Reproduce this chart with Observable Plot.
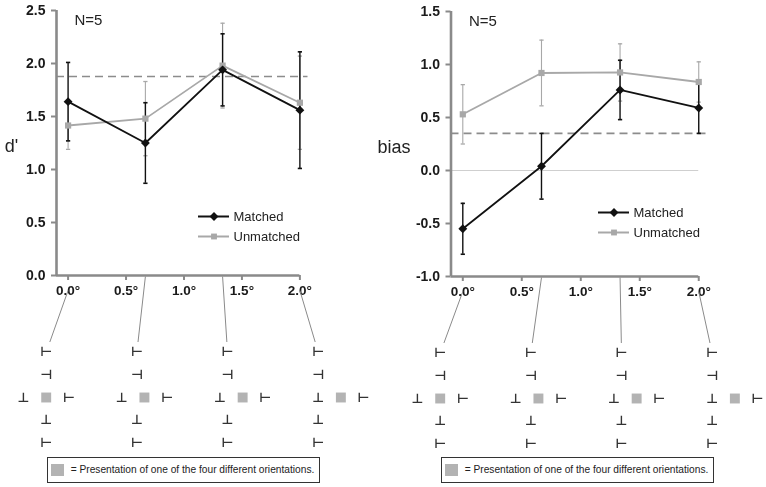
<!DOCTYPE html>
<html><head><meta charset="utf-8">
<script src="https://cdn.jsdelivr.net/npm/d3@7"></script>
<script src="https://cdn.jsdelivr.net/npm/@observablehq/plot@0.6"></script>
<style>
body{margin:0;background:#fff;}
#root{position:relative;width:766px;height:487px;overflow:hidden;font-family:"Liberation Sans",Arial,sans-serif;background:#fff;}
.panel{position:absolute;top:0;width:383px;height:487px;}
.layer{position:absolute;will-change:transform;}
.layer svg{background:transparent !important;overflow:visible;}
.caption{position:absolute;box-sizing:border-box;border:1px solid #333;height:26px;display:flex;align-items:center;font-size:10.2px;color:#222;background:#fff;white-space:nowrap;}
.caption .sw{display:inline-block;width:13px;height:12px;background:#b3b3b3;margin:0 7px 0 3px;}
</style></head>
<body><div id="root"></div>
<script>
// ---------------- data ----------------
const positions = [0, 0.667, 1.333, 2.0];            // target offset (deg)
const series = ["Matched", "Unmatched"];
const dprimeMatched = [1.64, 1.25, 1.94, 1.56];
const dprimeMatchedErr = [0.37, 0.38, 0.34, 0.55];
const dprimeUnmatched = [1.415, 1.48, 1.98, 1.63];
const dprimeUnmatchedErr = [0.225, 0.35, 0.40, 0.44];
const dprimeReference = 1.877;
const biasMatched = [-0.55, 0.04, 0.76, 0.59];
const biasMatchedErr = [0.24, 0.31, 0.28, 0.24];
const biasUnmatched = [0.53, 0.92, 0.925, 0.835];
const biasUnmatchedErr = [0.28, 0.31, 0.27, 0.19];
const biasReference = 0.35;
const xTicks = [0, 0.5, 1.0, 1.5, 2.0];
const dprimeTicks = [0, 0.5, 1.0, 1.5, 2.0, 2.5];
const biasTicks = [-1.0, -0.5, 0, 0.5, 1.0, 1.5];
const sampleLabel = "N=5";
const columnGlyphs = ["⊢", "⊣", null, "⊥", "⊢"];   // rows top to bottom (middle row holds the target)
const middleGlyphs = ["⊥", null, "⊢"];               // left flanker, target, right flanker
const captionText = "= Presentation of one of the four different orientations.";

// ---------------- drawing ----------------
const root = document.getElementById("root");
const W = 383;
const seriesColors = ["#111111", "#a8a8a8"];
const axisColor = "#8a8a8a";
const font = "Liberation Sans, Arial, sans-serif";
const capSymbol = {draw(ctx, size) { const w = Math.sqrt(size) / 2; ctx.moveTo(-w, 0); ctx.lineTo(w, 0); }};

function rowsFor(values, errs, name) {
  return positions.map((x, i) => ({series: name, x, y: values[i], lo: values[i] - errs[i], hi: values[i] + errs[i]}));
}

function addLayer(parent, el, left, top) {
  const d = document.createElement("div");
  d.className = "layer";
  d.style.left = left + "px";
  d.style.top = top + "px";
  d.appendChild(el);
  parent.appendChild(d);
  return d;
}

function panel(cfg) {
  const p = document.createElement("div");
  p.className = "panel";
  p.style.left = cfg.left + "px";
  root.appendChild(p);

  const unm = rowsFor(cfg.unmatched, cfg.unmatchedErr, "Unmatched");
  const mat = rowsFor(cfg.matched, cfg.matchedErr, "Matched");
  const xMin = -0.1, xMax = 2.07, xLast = d3.max(xTicks);
  const yDomain = d3.extent(cfg.yTicks);

  const chart = Plot.plot({
    width: W, height: 300,
    marginLeft: cfg.marginLeft, marginRight: cfg.marginRight, marginTop: cfg.marginTop, marginBottom: cfg.marginBottom,
    style: {fontFamily: font, background: "transparent", overflow: "visible"},
    x: {domain: [xMin, xMax]},
    y: {domain: yDomain},
    color: {domain: series, range: seriesColors},
    marks: [
      cfg.zeroLine ? Plot.ruleY([0], {x1: xMin, x2: xLast, stroke: "#cfcfcf", strokeWidth: 1}) : null,
      Plot.ruleY([cfg.reference], {stroke: "#8c8c8c", strokeWidth: 1.6, strokeDasharray: "8,5"}),
      Plot.axisY({ticks: cfg.yTicks, tickSize: 5, tickPadding: 6, tickFormat: d => d.toFixed(1),
        stroke: axisColor, strokeWidth: 2, fill: "#1a1a1a", fontSize: 14, fontWeight: "bold", label: null}),
      Plot.axisX({ticks: xTicks, tickSize: 5, tickPadding: 5, tickFormat: d => d.toFixed(1) + "°",
        stroke: axisColor, strokeWidth: 2, fill: "#1a1a1a", fontSize: 13.5, fontWeight: "bold", label: null}),
      Plot.ruleY([yDomain[0]], {x1: xMin, x2: xLast, stroke: axisColor, strokeWidth: 2.6}),
      Plot.ruleX([xMin], {y1: yDomain[0], y2: yDomain[1], stroke: axisColor, strokeWidth: 2.6}),
      // error bars
      Plot.ruleX(unm, {x: "x", y1: "lo", y2: "hi", stroke: "series", strokeWidth: 1.1}),
      Plot.dot(unm, {x: "x", y: "lo", symbol: capSymbol, r: 2.4, stroke: "series", fill: "none", strokeWidth: 1.3}),
      Plot.dot(unm, {x: "x", y: "hi", symbol: capSymbol, r: 2.4, stroke: "series", fill: "none", strokeWidth: 1.3}),
      Plot.ruleX(mat, {x: "x", y1: "lo", y2: "hi", stroke: "series", strokeWidth: 1.4}),
      Plot.dot(mat, {x: "x", y: "lo", symbol: capSymbol, r: 2.4, stroke: "series", fill: "none", strokeWidth: 1.6}),
      Plot.dot(mat, {x: "x", y: "hi", symbol: capSymbol, r: 2.4, stroke: "series", fill: "none", strokeWidth: 1.6}),
      // lines + markers
      Plot.line(unm, {x: "x", y: "y", stroke: "series", strokeWidth: 1.8}),
      Plot.dot(unm, {x: "x", y: "y", symbol: "square", r: 3.5, fill: "series"}),
      Plot.line(mat, {x: "x", y: "y", stroke: "series", strokeWidth: 1.8}),
      Plot.dot(mat, {x: "x", y: "y", symbol: "diamond2", r: 4, fill: "series"}),
      // annotations
      Plot.text([sampleLabel], {frameAnchor: "top-left", dx: 18, dy: 10, textAnchor: "start", lineAnchor: "middle", fontSize: 15, fill: "#222"}),
      Plot.text([cfg.label], {frameAnchor: "left", dx: cfg.labelDx, dy: 3, textAnchor: "middle", lineAnchor: "middle", fontSize: 18, fill: "#222"})
    ]
  });
  addLayer(p, chart, 0, 0);

  // legend
  const legend = Plot.plot({
    width: 130, height: 42, margin: 0,
    style: {fontFamily: font, background: "transparent", overflow: "visible"},
    x: {domain: [0, 1], range: [0, 31], axis: null},
    y: {type: "point", domain: series, range: [10, 30.5], padding: 0, axis: null},
    color: {domain: series, range: seriesColors},
    marks: [
      Plot.ruleY(series, {y: d => d, x1: 0, x2: 1, stroke: d => d, strokeWidth: 2}),
      Plot.dot([series[1]], {x: 0.5, y: d => d, symbol: "square", r: 3.3, fill: d => d}),
      Plot.dot([series[0]], {x: 0.5, y: d => d, symbol: "diamond2", r: 4, fill: d => d}),
      Plot.text(series, {x: 1, y: d => d, dx: 4, textAnchor: "start", fontSize: 13, fill: "#222"})
    ]
  });
  addLayer(p, legend, cfg.legendLeft, cfg.legendTop);

  // stimulus diagram
  const chartX = chart.scale("x");
  const chartY = chart.scale("y");
  const diagTop = chartY.apply(yDomain[0]);
  const colSpan = 4 * (positions.length - 1);
  const diagXcfg = {domain: [0, colSpan], range: [cfg.colStart, cfg.colStart + 272]};
  const diagYcfg = {domain: [0, columnGlyphs.length - 1], range: [351.7 - 275, 442.3 - 275]};
  const diagX = Plot.scale({x: diagXcfg});
  const diagY = Plot.scale({y: diagYcfg});
  const maxPos = d3.max(positions);
  const glyphs = [], targets = [], links = [];
  positions.forEach((deg, i) => {
    const c = i * 4;
    columnGlyphs.forEach((g, r) => { if (g) glyphs.push({x: c, y: r, g}); });
    const shift = deg / maxPos;
    const mid = columnGlyphs.indexOf(null);
    middleGlyphs.forEach((g, k) => {
      if (g) glyphs.push({x: c + shift + (k - 1), y: mid, g});
      else targets.push({x: c + shift, y: mid});
    });
    const labelled = xTicks.some(t => Math.abs(t - deg) < 0.01);
    const sx = diagX.invert(chartX.apply(deg));
    const sy = diagY.invert(labelled ? 15 : 1);
    const ey = -0.45;
    const t = (ey - sy) / (0 - sy);
    links.push({x1: sx, y1: sy, x2: sx + (c - sx) * t, y2: ey});
  });
  const diagram = Plot.plot({
    width: W, height: 212, margin: 0,
    style: {background: "transparent", overflow: "visible"},
    x: {...diagXcfg, axis: null},
    y: {...diagYcfg, axis: null},
    marks: [
      Plot.link(links, {x1: "x1", y1: "y1", x2: "x2", y2: "y2", stroke: "#8a8a8a", strokeWidth: 1}),
      Plot.text(glyphs, {x: "x", y: "y", text: "g", fontFamily: "DejaVu Sans", fontSize: 13, fontWeight: "bold", fill: "#333", lineAnchor: "middle"}),
      Plot.dot(targets, {x: "x", y: "y", symbol: "square", r: 5.6, fill: "#b3b3b3"})
    ]
  });
  addLayer(p, diagram, 0, diagTop);

  // caption box
  const cap = document.createElement("div");
  cap.className = "caption";
  const x0 = diagX.apply(0), x1 = diagX.apply(colSpan);
  cap.style.left = (x0 + 1) + "px";
  cap.style.width = (x1 - x0 + 1.5) + "px";
  cap.style.top = "456.5px";
  const sw = document.createElement("span"); sw.className = "sw";
  cap.appendChild(sw);
  cap.appendChild(document.createTextNode(captionText));
  p.appendChild(cap);
}

panel({left: 0, label: "d'", labelDx: -45, yTicks: dprimeTicks, reference: dprimeReference, zeroLine: false,
  matched: dprimeMatched, matchedErr: dprimeMatchedErr, unmatched: dprimeUnmatched, unmatchedErr: dprimeUnmatchedErr,
  marginLeft: 56, marginRight: 75.5, marginTop: 10, marginBottom: 25, legendLeft: 198, legendTop: 206, colStart: 45.7});
panel({left: 383, label: "bias", labelDx: -57, yTicks: biasTicks, reference: biasReference, zeroLine: true,
  matched: biasMatched, matchedErr: biasMatchedErr, unmatched: biasUnmatched, unmatchedErr: biasUnmatchedErr,
  marginLeft: 67.5, marginRight: 59.5, marginTop: 11, marginBottom: 24, legendLeft: 215, legendTop: 202, colStart: 56.7});
</script>
</body></html>
